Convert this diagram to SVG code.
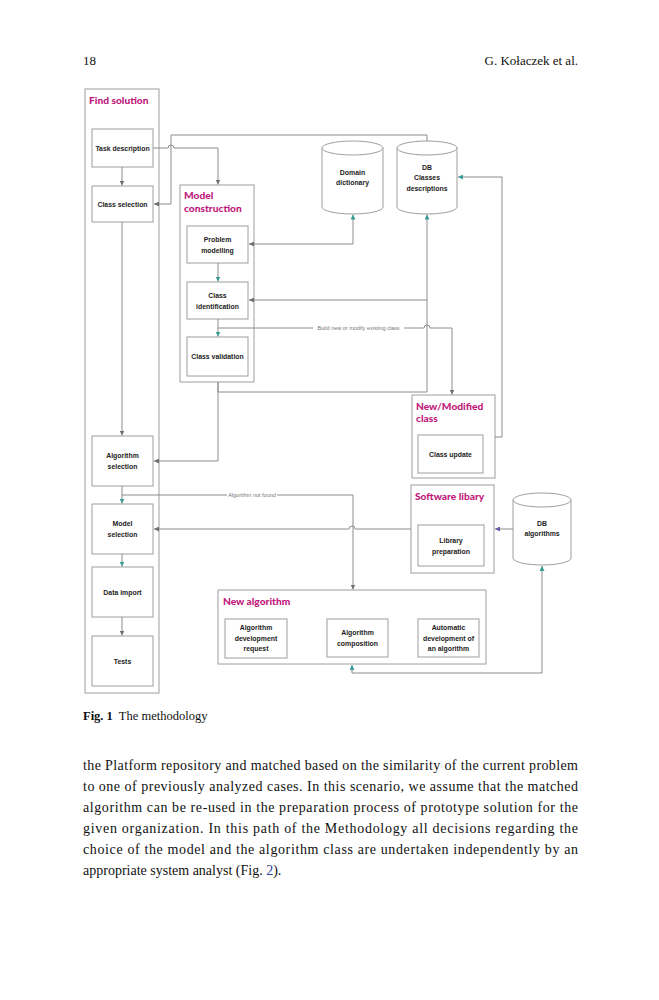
<svg xmlns="http://www.w3.org/2000/svg" width="659" height="1000" viewBox="0 0 659 1000">
<style>
.bg{fill:#fff}
.box{fill:#fff;stroke:#9e9e9e;stroke-width:1}
.lbl{font-family:"Liberation Sans",Arial,sans-serif;font-weight:bold;font-size:6.9px;fill:#222;text-anchor:middle}
.ttl{font-family:Lato,"Open Sans",sans-serif;font-weight:900;font-size:10.2px;fill:#c0197b}
.ln{fill:none;stroke:#8c8c8c;stroke-width:1}
.sm{font-family:"Liberation Sans",Arial,sans-serif;font-size:5.5px;fill:#777;text-anchor:middle}
.serif{font-family:"Liberation Serif","Times New Roman",serif;fill:#111}
</style>
<defs>
<marker id="ag" viewBox="0 0 6 6" refX="6" refY="3" markerWidth="5" markerHeight="5" markerUnits="userSpaceOnUse" orient="auto-start-reverse"><path d="M0,0 L6,3 L0,6 z" fill="#707070"/></marker>
<marker id="at" viewBox="0 0 6 6" refX="6" refY="3" markerWidth="5" markerHeight="5" markerUnits="userSpaceOnUse" orient="auto-start-reverse"><path d="M0,0 L6,3 L0,6 z" fill="#3a9c98"/></marker>
<marker id="ap" viewBox="0 0 6 6" refX="6" refY="3" markerWidth="5" markerHeight="5" markerUnits="userSpaceOnUse" orient="auto-start-reverse"><path d="M0,0 L6,3 L0,6 z" fill="#6a5aa8"/></marker>
</defs>
<rect class="bg" x="0" y="0" width="659" height="1000"/>

<g id="header">
<text class="serif" x="83" y="65" font-size="13">18</text>
<text class="serif" x="578" y="65" font-size="13" text-anchor="end">G. Kołaczek et al.</text>
</g>

<g id="find-solution">
<rect class="box" x="85" y="89" width="74" height="604"/>
<text class="ttl" x="89" y="104">Find solution</text>
</g>
<g id="task-description">
<rect class="box" x="92" y="129" width="61" height="38"/>
<text class="lbl" x="122.5" y="150.5">Task description</text>
</g>
<g id="class-selection">
<rect class="box" x="92" y="186" width="61" height="36"/>
<text class="lbl" x="122.5" y="206.5">Class selection</text>
</g>
<g id="algorithm-selection">
<rect class="box" x="92" y="436" width="61" height="50"/>
<text class="lbl" x="122.5" y="458">Algorithm</text>
<text class="lbl" x="122.5" y="469">selection</text>
</g>
<g id="model-selection">
<rect class="box" x="92" y="504" width="61" height="50"/>
<text class="lbl" x="122.5" y="526">Model</text>
<text class="lbl" x="122.5" y="537">selection</text>
</g>
<g id="data-import">
<rect class="box" x="92" y="567" width="61" height="50"/>
<text class="lbl" x="122.5" y="595">Data import</text>
</g>
<g id="tests">
<rect class="box" x="92" y="636" width="61" height="50"/>
<text class="lbl" x="122.5" y="663.5">Tests</text>
</g>

<g id="model-construction">
<rect class="box" x="180" y="185" width="74" height="197"/>
<text class="ttl" x="184" y="199">Model</text>
<text class="ttl" x="184" y="211.5">construction</text>
</g>
<g id="problem-modelling">
<rect class="box" x="187" y="226" width="61" height="37"/>
<text class="lbl" x="217.5" y="242">Problem</text>
<text class="lbl" x="217.5" y="253">modelling</text>
</g>
<g id="class-identification">
<rect class="box" x="187" y="282" width="61" height="37"/>
<text class="lbl" x="217.5" y="298">Class</text>
<text class="lbl" x="217.5" y="309">identification</text>
</g>
<g id="class-validation">
<rect class="box" x="187" y="337" width="61" height="39"/>
<text class="lbl" x="217.5" y="359">Class validation</text>
</g>

<g id="domain-dictionary">
<path class="box" d="M322,148 V207 A30.5,7 0 0 0 383,207 V148"/>
<ellipse class="box" cx="352.5" cy="148" rx="30.5" ry="7"/>
<text class="lbl" x="352.5" y="174.5">Domain</text>
<text class="lbl" x="352.5" y="185">dictionary</text>
</g>
<g id="db-classes">
<path class="box" d="M397,148 V207 A30,7 0 0 0 457,207 V148"/>
<ellipse class="box" cx="427" cy="148" rx="30" ry="7"/>
<text class="lbl" x="427" y="169.5">DB</text>
<text class="lbl" x="427" y="180">Classes</text>
<text class="lbl" x="427" y="190.5">descriptions</text>
</g>

<g id="new-modified-class">
<rect class="box" x="412" y="395" width="83" height="83"/>
<text class="ttl" x="416" y="410">New/Modified</text>
<text class="ttl" x="416" y="421.5">class</text>
</g>
<g id="class-update">
<rect class="box" x="418" y="435" width="65" height="38"/>
<text class="lbl" x="450.5" y="457">Class update</text>
</g>

<g id="software-libary">
<rect class="box" x="411" y="485" width="83" height="88"/>
<text class="ttl" x="415" y="500">Software libary</text>
</g>
<g id="library-preparation">
<rect class="box" x="418" y="525" width="66" height="41"/>
<text class="lbl" x="451" y="543">Library</text>
<text class="lbl" x="451" y="553.5">preparation</text>
</g>

<g id="db-algorithms">
<path class="box" d="M513,500 V558 A29,7 0 0 0 571,558 V500"/>
<ellipse class="box" cx="542" cy="500" rx="29" ry="7"/>
<text class="lbl" x="542" y="525.5">DB</text>
<text class="lbl" x="542" y="536">algorithms</text>
</g>

<g id="new-algorithm">
<rect class="box" x="218" y="590" width="268" height="74"/>
<text class="ttl" x="223" y="605">New algorithm</text>
</g>
<g id="algorithm-development-request">
<rect class="box" x="225" y="619" width="62" height="39"/>
<text class="lbl" x="256" y="630">Algorithm</text>
<text class="lbl" x="256" y="640.5">development</text>
<text class="lbl" x="256" y="651">request</text>
</g>
<g id="algorithm-composition">
<rect class="box" x="327" y="619" width="61" height="38"/>
<text class="lbl" x="357.5" y="635">Algorithm</text>
<text class="lbl" x="357.5" y="645.5">composition</text>
</g>
<g id="automatic-development">
<rect class="box" x="418" y="619" width="61" height="38"/>
<text class="lbl" x="448.5" y="630">Automatic</text>
<text class="lbl" x="448.5" y="640.5">development of</text>
<text class="lbl" x="448.5" y="651">an algorithm</text>
</g>

<g id="connectors">
<path class="ln" d="M122,167 V185.5" marker-end="url(#ag)"/>
<path class="ln" d="M122,222 V435.5" marker-end="url(#ag)"/>
<path class="ln" d="M122,486 V503.5" marker-end="url(#at)"/>
<path class="ln" d="M122,554 V566.5" marker-end="url(#at)"/>
<path class="ln" d="M122,617 V635.5" marker-end="url(#ag)"/>
<path class="ln" d="M153,148 H168 A3,3 0 0 1 174,148 H218 V184.5" marker-end="url(#ag)"/>
<path class="ln" d="M427,141 V135 H171 V204 H154" marker-end="url(#ag)"/>
<path class="ln" d="M218,263 V281.5" marker-end="url(#at)"/>
<path class="ln" d="M218,319 V336.5" marker-end="url(#at)"/>
<path class="ln" d="M249,244 H353 V214.5" marker-start="url(#ag)" marker-end="url(#at)"/>
<path class="ln" d="M427,300 H249" marker-end="url(#ag)"/>
<path class="ln" d="M218,382 V392 H427 V214.5" marker-end="url(#at)"/>
<path class="ln" d="M218,382 V461 H154" marker-end="url(#ag)"/>
<path class="ln" d="M218,328 H424 A3,3 0 0 1 430,328 H452 V394.5" marker-end="url(#ag)"/>
<rect class="bg" x="313" y="325" width="91" height="6"/>
<text class="sm" x="358.5" y="330">Build new or modify existing class</text>
<path class="ln" d="M495,437 H502 V177 H458" marker-end="url(#at)"/>
<path class="ln" d="M122,495 H353 V589.5" marker-end="url(#ag)"/>
<rect class="bg" x="227" y="492" width="50" height="6"/>
<text class="sm" x="252" y="497">Algorithm not found</text>
<path class="ln" d="M411,529 H355 A3,3 0 0 0 349,529 H154" marker-end="url(#ag)"/>
<path class="ln" d="M513,529 H495" marker-end="url(#ap)"/>
<path class="ln" d="M352,665 V673 H542 V566" marker-start="url(#at)" marker-end="url(#at)"/>
</g>

<g id="caption">
<text class="serif" x="83" y="720" font-size="12.5"><tspan font-weight="bold">Fig. 1</tspan><tspan dx="6">The methodology</tspan></text>
</g>
<g id="body">
<text class="serif" font-size="14" x="83" y="769.5" textLength="495" lengthAdjust="spacing">the Platform repository and matched based on the similarity of the current problem</text>
<text class="serif" font-size="14" x="83" y="790.5" textLength="495" lengthAdjust="spacing">to one of previously analyzed cases. In this scenario, we assume that the matched</text>
<text class="serif" font-size="14" x="83" y="811.5" textLength="495" lengthAdjust="spacing">algorithm can be re-used in the preparation process of prototype solution for the</text>
<text class="serif" font-size="14" x="83" y="832.5" textLength="495" lengthAdjust="spacing">given organization. In this path of the Methodology all decisions regarding the</text>
<text class="serif" font-size="14" x="83" y="853.5" textLength="495" lengthAdjust="spacing">choice of the model and the algorithm class are undertaken independently by an</text>
<text class="serif" font-size="14" x="83" y="874.5">appropriate system analyst (Fig. <tspan fill="#2a3c9a">2</tspan>).</text>
</g>
</svg>
